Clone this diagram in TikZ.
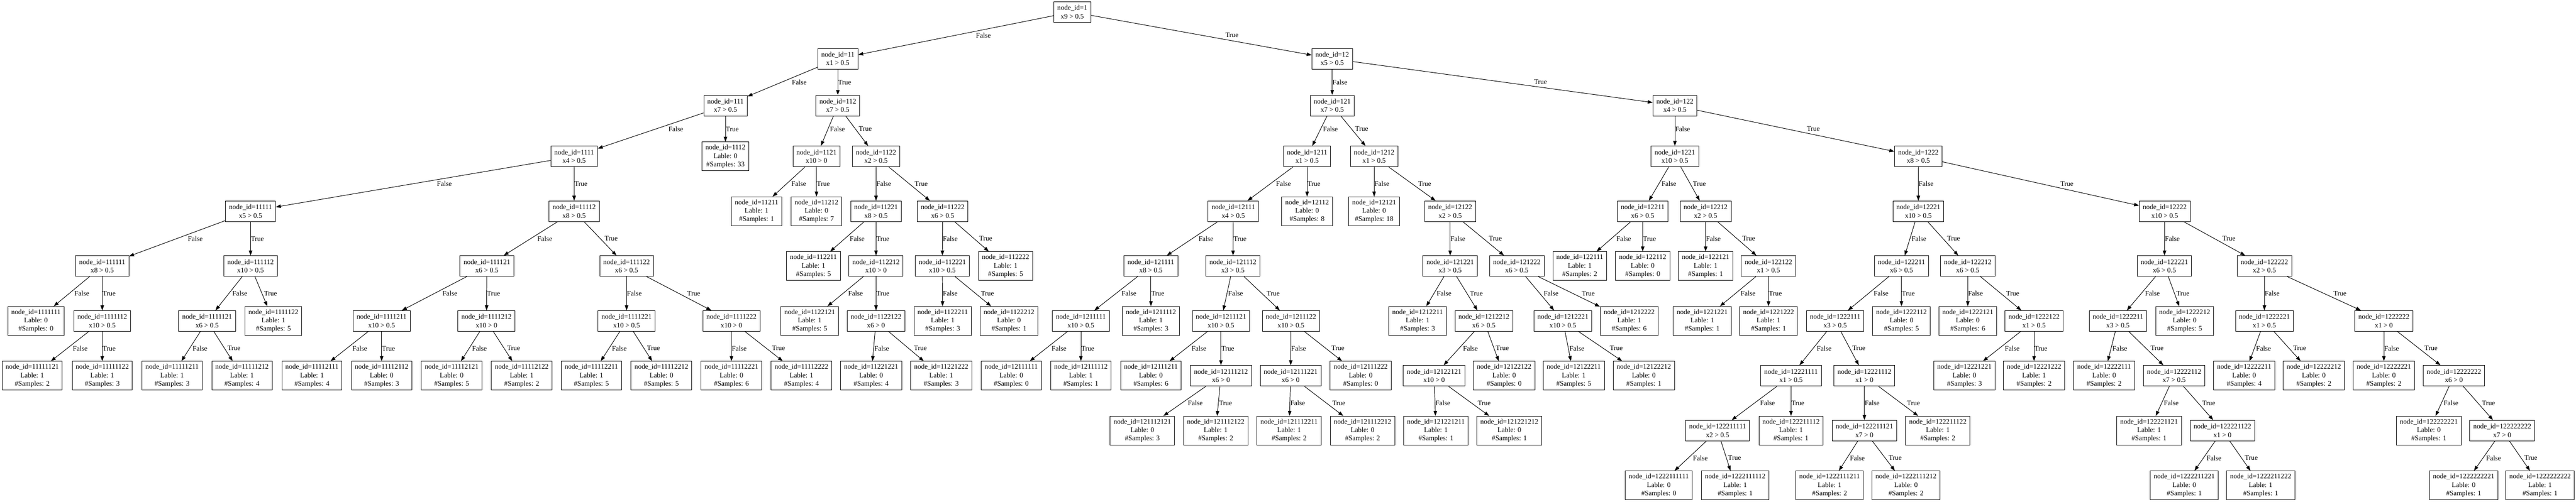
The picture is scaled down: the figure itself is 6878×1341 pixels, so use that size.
\documentclass[tikz,border=0pt]{standalone}
\usepackage{fontspec}
\setmainfont{Liberation Serif}
\usetikzlibrary{arrows.meta,calc}
\expandafter\def\csname tT0\endcsname{0.412}
\expandafter\def\csname tB0\endcsname{0.588}
\expandafter\def\csname tT1\endcsname{0.412}
\expandafter\def\csname tB1\endcsname{0.588}
\expandafter\def\csname tT2\endcsname{0.3787}
\expandafter\def\csname tB2\endcsname{0.5404}
\expandafter\def\csname tT3\endcsname{0.4249}
\expandafter\def\csname tB3\endcsname{0.5751}
\expandafter\def\csname tT4\endcsname{0.4249}
\expandafter\def\csname tB4\endcsname{0.5751}
\expandafter\def\csname tT5\endcsname{0.4249}
\expandafter\def\csname tB5\endcsname{0.5751}
\expandafter\def\csname tT6\endcsname{0.4249}
\expandafter\def\csname tB6\endcsname{0.5751}
\expandafter\def\csname tT7\endcsname{0.4249}
\expandafter\def\csname tB7\endcsname{0.5751}
\expandafter\def\csname tT8\endcsname{0.4249}
\expandafter\def\csname tB8\endcsname{0.5751}
\newcommand\Nint[4]{\node[inode] (n#1) at (#2,#3) {node\_id=#1\\#4};}
\newcommand\Nleaf[5]{\node[lnode] (n#1) at (#2,#3) {node\_id=#1\\Lable: #4\\\#Samples: #5};}
\newcommand\Edg[5]{\draw[conn] (n#1) -- (n#2);%
\if#4L\edef\tmpt{\csname tT#3\endcsname}\node[lbl,anchor=north west] at ($(n#1.center)!\tmpt!(n#2.center)$) {#5};%
\else\edef\tmpt{\csname tB#3\endcsname}\node[lbl,anchor=south west] at ($(n#1.center)!\tmpt!(n#2.center)$) {#5};\fi}
\begin{document}
\begin{tikzpicture}[x=0.75pt,y=-0.75pt,
 inode/.style={draw,line width=1pt,align=center,inner xsep=7pt,inner ysep=0pt,minimum height=41.25pt,minimum width=54pt,font=\fontsize{14pt}{16.8pt}\selectfont},
 lnode/.style={inode,minimum height=57.75pt},
 conn/.style={line width=1pt,-{Triangle[length=10pt,width=7pt]}},
 lbl/.style={inner xsep=0.5pt,inner ysep=0pt,minimum height=16.5pt,font=\fontsize{14pt}{16.8pt}\selectfont}]
\fill[white] (0,0) rectangle (6878,1341);
\useasboundingbox (0,0) rectangle (6878,1341);
% L0
\Nint{1}{2863}{32}{x9 > 0.5}
% L1
\Nint{11}{2237}{157}{x1 > 0.5}
\Nint{12}{3557}{157}{x5 > 0.5}
% L2
\Nint{111}{1937}{282}{x7 > 0.5}
\Nint{112}{2237}{282}{x7 > 0.5}
\Nint{121}{3557}{282}{x7 > 0.5}
\Nint{122}{4472}{282}{x4 > 0.5}
% L3
\Nint{1111}{1533}{418}{x4 > 0.5}
\Nleaf{1112}{1937}{418}{0}{33}
\Nint{1121}{2180}{418}{x10 > 0}
\Nint{1122}{2339}{418}{x2 > 0.5}
\Nint{1211}{3490}{418}{x1 > 0.5}
\Nint{1212}{3669}{418}{x1 > 0.5}
\Nint{1221}{4472}{418}{x10 > 0.5}
\Nint{1222}{5122}{418}{x8 > 0.5}
% L4
\Nint{11111}{669}{564.5}{x5 > 0.5}
\Nint{11112}{1533}{564.5}{x8 > 0.5}
\Nleaf{11211}{2020}{564.5}{1}{1}
\Nleaf{11212}{2180}{564.5}{0}{7}
\Nint{11221}{2339}{564.5}{x8 > 0.5}
\Nint{11222}{2517}{564.5}{x6 > 0.5}
\Nint{12111}{3293}{564.5}{x4 > 0.5}
\Nleaf{12112}{3490}{564.5}{0}{8}
\Nleaf{12121}{3669}{564.5}{0}{18}
\Nint{12122}{3872}{564.5}{x2 > 0.5}
\Nint{12211}{4386}{564.5}{x6 > 0.5}
\Nint{12212}{4554}{564.5}{x2 > 0.5}
\Nint{12221}{5122}{564.5}{x10 > 0.5}
\Nint{12222}{5780}{564.5}{x10 > 0.5}
% L5
\Nint{111111}{273}{711}{x8 > 0.5}
\Nint{111112}{669}{711}{x10 > 0.5}
\Nint{111121}{1300}{711}{x6 > 0.5}
\Nint{111122}{1673}{711}{x6 > 0.5}
\Nleaf{112211}{2172}{711}{1}{5}
\Nint{112212}{2339}{711}{x10 > 0}
\Nint{112221}{2516}{711}{x10 > 0.5}
\Nleaf{112222}{2685}{711}{1}{5}
\Nint{121111}{3073}{711}{x8 > 0.5}
\Nint{121112}{3292}{711}{x3 > 0.5}
\Nint{121221}{3872}{711}{x3 > 0.5}
\Nint{121222}{4050}{711}{x6 > 0.5}
\Nleaf{122111}{4218}{711}{1}{2}
\Nleaf{122112}{4386}{711}{0}{0}
\Nleaf{122121}{4554}{711}{1}{1}
\Nint{122122}{4722}{711}{x1 > 0.5}
\Nint{122211}{5077}{711}{x6 > 0.5}
\Nint{122212}{5254}{711}{x6 > 0.5}
\Nint{122221}{5779}{711}{x6 > 0.5}
\Nint{122222}{6046}{711}{x2 > 0.5}
% L6
\Nleaf{1111111}{96}{857.5}{0}{0}
\Nint{1111112}{273}{857.5}{x10 > 0.5}
\Nint{1111121}{553}{857.5}{x6 > 0.5}
\Nleaf{1111122}{730}{857.5}{1}{5}
\Nint{1111211}{1019}{857.5}{x10 > 0.5}
\Nint{1111212}{1299}{857.5}{x10 > 0}
\Nint{1111221}{1673}{857.5}{x10 > 0.5}
\Nint{1111222}{1953}{857.5}{x10 > 0}
\Nleaf{1122121}{2162}{857.5}{1}{5}
\Nint{1122122}{2339}{857.5}{x6 > 0}
\Nleaf{1122211}{2517}{857.5}{1}{3}
\Nleaf{1122212}{2694}{857.5}{0}{1}
\Nint{1211111}{2886}{857.5}{x10 > 0.5}
\Nleaf{1211112}{3073}{857.5}{1}{3}
\Nint{1211121}{3260}{857.5}{x10 > 0.5}
\Nint{1211122}{3447}{857.5}{x10 > 0.5}
\Nleaf{1212211}{3785}{857.5}{1}{3}
\Nint{1212212}{3962}{857.5}{x6 > 0.5}
\Nint{1212221}{4173}{857.5}{x10 > 0.5}
\Nleaf{1212222}{4350}{857.5}{1}{6}
\Nleaf{1221221}{4545}{857.5}{1}{1}
\Nleaf{1221222}{4722}{857.5}{1}{1}
\Nint{1222111}{4900}{857.5}{x3 > 0.5}
\Nleaf{1222112}{5077}{857.5}{0}{5}
\Nleaf{1222121}{5254}{857.5}{0}{6}
\Nint{1222122}{5431}{857.5}{x1 > 0.5}
\Nint{1222211}{5655}{857.5}{x3 > 0.5}
\Nleaf{1222212}{5833}{857.5}{0}{5}
\Nint{1222221}{6046}{857.5}{x1 > 0.5}
\Nint{1222222}{6365}{857.5}{x1 > 0}
% L7
\Nleaf{11111121}{86}{1004}{1}{2}
\Nleaf{11111122}{273}{1004}{1}{3}
\Nleaf{11111211}{459.5}{1004}{1}{3}
\Nleaf{11111212}{646}{1004}{1}{4}
\Nleaf{11112111}{833}{1004}{1}{4}
\Nleaf{11112112}{1019}{1004}{0}{3}
\Nleaf{11112121}{1206}{1004}{0}{5}
\Nleaf{11112122}{1393}{1004}{1}{2}
\Nleaf{11112211}{1579}{1004}{1}{5}
\Nleaf{11112212}{1766}{1004}{0}{5}
\Nleaf{11112221}{1953}{1004}{0}{6}
\Nleaf{11112222}{2140}{1004}{1}{4}
\Nleaf{11221221}{2326}{1004}{0}{4}
\Nleaf{11221222}{2513}{1004}{1}{3}
\Nleaf{12111111}{2700}{1004}{0}{0}
\Nleaf{12111112}{2886}{1004}{1}{1}
\Nleaf{12111211}{3073}{1004}{0}{6}
\Nint{12111212}{3260}{1004}{x6 > 0}
\Nint{12111221}{3446}{1004}{x6 > 0}
\Nleaf{12111222}{3633}{1004}{0}{0}
\Nint{12122121}{3829}{1004}{x10 > 0}
\Nleaf{12122122}{4016}{1004}{0}{0}
\Nleaf{12122211}{4202}{1004}{1}{5}
\Nleaf{12122212}{4389}{1004}{0}{1}
\Nint{12221111}{4782}{1004}{x1 > 0.5}
\Nint{12221112}{4978}{1004}{x1 > 0}
\Nleaf{12221221}{5245}{1004}{0}{3}
\Nleaf{12221222}{5431}{1004}{1}{2}
\Nleaf{12222111}{5618}{1004}{0}{2}
\Nint{12222112}{5805}{1004}{x7 > 0.5}
\Nleaf{12222211}{5992}{1004}{0}{4}
\Nleaf{12222212}{6178}{1004}{0}{2}
\Nleaf{12222221}{6365}{1004}{0}{2}
\Nint{12222222}{6552}{1004}{x6 > 0}
% L8
\Nleaf{121112121}{3050}{1150.5}{0}{3}
\Nleaf{121112122}{3246}{1150.5}{1}{2}
\Nleaf{121112211}{3442}{1150.5}{1}{2}
\Nleaf{121112212}{3638}{1150.5}{0}{2}
\Nleaf{121221211}{3834}{1150.5}{1}{1}
\Nleaf{121221212}{4030}{1150.5}{0}{1}
\Nint{122211111}{4586}{1150.5}{x2 > 0.5}
\Nleaf{122211112}{4782}{1150.5}{1}{1}
\Nint{122211121}{4978}{1150.5}{x7 > 0}
\Nleaf{122211122}{5174}{1150.5}{1}{2}
\Nleaf{122221121}{5738}{1150.5}{1}{1}
\Nint{122221122}{5934}{1150.5}{x1 > 0}
\Nleaf{122222221}{6485}{1150.5}{0}{1}
\Nint{122222222}{6681}{1150.5}{x7 > 0}
% L9
\Nleaf{1222111111}{4429}{1297}{0}{0}
\Nleaf{1222111112}{4633}{1297}{1}{1}
\Nleaf{1222111211}{4885}{1297}{1}{2}
\Nleaf{1222111212}{5089}{1297}{0}{2}
\Nleaf{1222211221}{5832}{1297}{0}{1}
\Nleaf{1222211222}{6036}{1297}{1}{1}
\Nleaf{1222222221}{6578}{1297}{0}{1}
\Nleaf{1222222222}{6782}{1297}{1}{1}
% edges
\Edg{1}{11}{0}{L}{False}
\Edg{1}{12}{0}{R}{True}
\Edg{11}{111}{1}{L}{False}
\Edg{11}{112}{1}{L}{True}
\Edg{12}{121}{1}{L}{False}
\Edg{12}{122}{1}{R}{True}
\Edg{111}{1111}{2}{L}{False}
\Edg{111}{1112}{2}{L}{True}
\Edg{112}{1121}{2}{L}{False}
\Edg{112}{1122}{2}{R}{True}
\Edg{121}{1211}{2}{L}{False}
\Edg{121}{1212}{2}{R}{True}
\Edg{122}{1221}{2}{L}{False}
\Edg{122}{1222}{2}{R}{True}
\Edg{1111}{11111}{3}{L}{False}
\Edg{1111}{11112}{3}{L}{True}
\Edg{1121}{11211}{3}{L}{False}
\Edg{1121}{11212}{3}{L}{True}
\Edg{1122}{11221}{3}{L}{False}
\Edg{1122}{11222}{3}{R}{True}
\Edg{1211}{12111}{3}{L}{False}
\Edg{1211}{12112}{3}{L}{True}
\Edg{1212}{12121}{3}{L}{False}
\Edg{1212}{12122}{3}{R}{True}
\Edg{1221}{12211}{3}{L}{False}
\Edg{1221}{12212}{3}{R}{True}
\Edg{1222}{12221}{3}{L}{False}
\Edg{1222}{12222}{3}{R}{True}
\Edg{11111}{111111}{4}{L}{False}
\Edg{11111}{111112}{4}{L}{True}
\Edg{11112}{111121}{4}{L}{False}
\Edg{11112}{111122}{4}{R}{True}
\Edg{11221}{112211}{4}{L}{False}
\Edg{11221}{112212}{4}{L}{True}
\Edg{11222}{112221}{4}{L}{False}
\Edg{11222}{112222}{4}{R}{True}
\Edg{12111}{121111}{4}{L}{False}
\Edg{12111}{121112}{4}{L}{True}
\Edg{12122}{121221}{4}{L}{False}
\Edg{12122}{121222}{4}{R}{True}
\Edg{12211}{122111}{4}{L}{False}
\Edg{12211}{122112}{4}{L}{True}
\Edg{12212}{122121}{4}{L}{False}
\Edg{12212}{122122}{4}{R}{True}
\Edg{12221}{122211}{4}{L}{False}
\Edg{12221}{122212}{4}{R}{True}
\Edg{12222}{122221}{4}{L}{False}
\Edg{12222}{122222}{4}{R}{True}
\Edg{111111}{1111111}{5}{L}{False}
\Edg{111111}{1111112}{5}{L}{True}
\Edg{111112}{1111121}{5}{L}{False}
\Edg{111112}{1111122}{5}{R}{True}
\Edg{111121}{1111211}{5}{L}{False}
\Edg{111121}{1111212}{5}{L}{True}
\Edg{111122}{1111221}{5}{L}{False}
\Edg{111122}{1111222}{5}{R}{True}
\Edg{112212}{1122121}{5}{L}{False}
\Edg{112212}{1122122}{5}{L}{True}
\Edg{112221}{1122211}{5}{L}{False}
\Edg{112221}{1122212}{5}{R}{True}
\Edg{121111}{1211111}{5}{L}{False}
\Edg{121111}{1211112}{5}{L}{True}
\Edg{121112}{1211121}{5}{L}{False}
\Edg{121112}{1211122}{5}{R}{True}
\Edg{121221}{1212211}{5}{L}{False}
\Edg{121221}{1212212}{5}{R}{True}
\Edg{121222}{1212221}{5}{R}{False}
\Edg{121222}{1212222}{5}{R}{True}
\Edg{122122}{1221221}{5}{L}{False}
\Edg{122122}{1221222}{5}{L}{True}
\Edg{122211}{1222111}{5}{L}{False}
\Edg{122211}{1222112}{5}{L}{True}
\Edg{122212}{1222121}{5}{L}{False}
\Edg{122212}{1222122}{5}{R}{True}
\Edg{122221}{1222211}{5}{L}{False}
\Edg{122221}{1222212}{5}{R}{True}
\Edg{122222}{1222221}{5}{L}{False}
\Edg{122222}{1222222}{5}{R}{True}
\Edg{1111112}{11111121}{6}{L}{False}
\Edg{1111112}{11111122}{6}{L}{True}
\Edg{1111121}{11111211}{6}{L}{False}
\Edg{1111121}{11111212}{6}{R}{True}
\Edg{1111211}{11112111}{6}{L}{False}
\Edg{1111211}{11112112}{6}{L}{True}
\Edg{1111212}{11112121}{6}{L}{False}
\Edg{1111212}{11112122}{6}{R}{True}
\Edg{1111221}{11112211}{6}{L}{False}
\Edg{1111221}{11112212}{6}{R}{True}
\Edg{1111222}{11112221}{6}{L}{False}
\Edg{1111222}{11112222}{6}{R}{True}
\Edg{1122122}{11221221}{6}{L}{False}
\Edg{1122122}{11221222}{6}{R}{True}
\Edg{1211111}{12111111}{6}{L}{False}
\Edg{1211111}{12111112}{6}{L}{True}
\Edg{1211121}{12111211}{6}{L}{False}
\Edg{1211121}{12111212}{6}{L}{True}
\Edg{1211122}{12111221}{6}{L}{False}
\Edg{1211122}{12111222}{6}{R}{True}
\Edg{1212212}{12122121}{6}{L}{False}
\Edg{1212212}{12122122}{6}{R}{True}
\Edg{1212221}{12122211}{6}{R}{False}
\Edg{1212221}{12122212}{6}{R}{True}
\Edg{1222111}{12221111}{6}{L}{False}
\Edg{1222111}{12221112}{6}{R}{True}
\Edg{1222122}{12221221}{6}{L}{False}
\Edg{1222122}{12221222}{6}{L}{True}
\Edg{1222211}{12222111}{6}{L}{False}
\Edg{1222211}{12222112}{6}{R}{True}
\Edg{1222221}{12222211}{6}{L}{False}
\Edg{1222221}{12222212}{6}{R}{True}
\Edg{1222222}{12222221}{6}{L}{False}
\Edg{1222222}{12222222}{6}{R}{True}
\Edg{12111212}{121112121}{7}{L}{False}
\Edg{12111212}{121112122}{7}{L}{True}
\Edg{12111221}{121112211}{7}{L}{False}
\Edg{12111221}{121112212}{7}{R}{True}
\Edg{12122121}{121221211}{7}{R}{False}
\Edg{12122121}{121221212}{7}{R}{True}
\Edg{12221111}{122211111}{7}{L}{False}
\Edg{12221111}{122211112}{7}{L}{True}
\Edg{12221112}{122211121}{7}{L}{False}
\Edg{12221112}{122211122}{7}{R}{True}
\Edg{12222112}{122221121}{7}{L}{False}
\Edg{12222112}{122221122}{7}{R}{True}
\Edg{12222222}{122222221}{7}{L}{False}
\Edg{12222222}{122222222}{7}{R}{True}
\Edg{122211111}{1222111111}{8}{L}{False}
\Edg{122211111}{1222111112}{8}{R}{True}
\Edg{122211121}{1222111211}{8}{L}{False}
\Edg{122211121}{1222111212}{8}{R}{True}
\Edg{122221122}{1222211221}{8}{L}{False}
\Edg{122221122}{1222211222}{8}{R}{True}
\Edg{122222222}{1222222221}{8}{L}{False}
\Edg{122222222}{1222222222}{8}{R}{True}
\end{tikzpicture}
\end{document}
